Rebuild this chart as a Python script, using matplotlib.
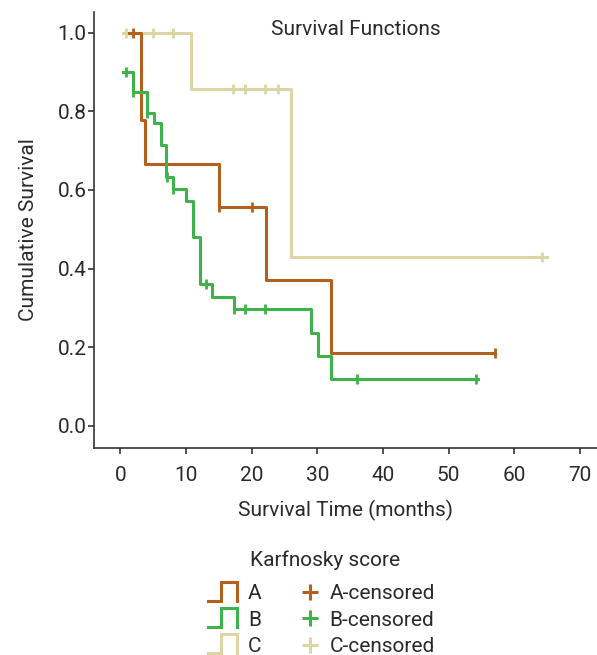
import matplotlib.pyplot as plt
from matplotlib.legend_handler import HandlerBase
from matplotlib.lines import Line2D

plt.rcParams['font.family'] = ['Roboto', 'DejaVu Sans']
plt.rcParams['font.size'] = 15
plt.rcParams['text.color'] = '#2a2a2a'
plt.rcParams['axes.labelcolor'] = '#2a2a2a'

# Kaplan-Meier steps (time in months, cumulative survival)
a_times = [1.4, 3.2, 3.8, 15.1, 22.2, 32.1, 57.1]
a_surv = [1.0, 0.778, 0.667, 0.556, 0.370, 0.185, 0.185]
a_cens_times = [2.0, 15.1, 20.0, 57.1]
a_cens_surv = [1.0, 0.556, 0.556, 0.185]

b_times = [0.4, 1.9, 4.1, 5.2, 6.2, 7.0, 8.1, 10.0, 11.0, 12.1, 14.0, 17.3, 29.1, 30.1, 32.1, 54.5]
b_surv = [0.900, 0.850, 0.796, 0.771, 0.714, 0.634, 0.602, 0.573, 0.481, 0.361, 0.329, 0.297,
          0.236, 0.179, 0.119, 0.119]
b_cens_times = [0.9, 1.9, 4.1, 7.1, 8.1, 13.0, 17.3, 19.0, 22.0, 36.1, 54.2]
b_cens_surv = [0.900, 0.850, 0.796, 0.634, 0.602, 0.361, 0.297, 0.297, 0.297, 0.119, 0.119]

c_times = [0.4, 10.8, 26.0, 65.0]
c_surv = [1.0, 0.857, 0.429, 0.429]
c_cens_times = [0.9, 5.0, 8.0, 17.1, 19.0, 22.0, 24.0, 64.2]
c_cens_surv = [1.0, 1.0, 1.0, 0.857, 0.857, 0.857, 0.857, 0.429]

groups = ['A', 'B', 'C']
colors = {'A': '#b35f1d', 'B': '#3db34a', 'C': '#dcd6a5'}


class StepHandler(HandlerBase):
    # little "_|‾|" icon like the original legend
    def create_artists(self, legend, orig_handle, xdescent, ydescent, width, height, fontsize, trans):
        x0, y0 = -xdescent, -ydescent
        lo, hi = y0 - 0.1 * height, y0 + 1.2 * height
        xs = [x0, x0 + 0.45 * width, x0 + 0.45 * width, x0 + width, x0 + width]
        ys = [lo, lo, hi, hi, lo]
        line = Line2D(xs, ys, color=orig_handle.get_color(), lw=2.2, solid_joinstyle='miter')
        line.set_transform(trans)
        return [line]


class CensorHandler(HandlerBase):
    def create_artists(self, legend, orig_handle, xdescent, ydescent, width, height, fontsize, trans):
        x = -xdescent + 0.72 * width
        y = -ydescent + 0.5 * height
        m = Line2D([x], [y], marker='+', markersize=12, markeredgewidth=2.2,
                   color=orig_handle.get_color(), linestyle='none')
        m.set_transform(trans)
        return [m]


fig = plt.figure(figsize=(5.97, 6.55), dpi=100)
ax = fig.add_axes([0.1575, 0.316, 0.8425, 0.666])

data = {
    'A': (a_times, a_surv, a_cens_times, a_cens_surv),
    'B': (b_times, b_surv, b_cens_times, b_cens_surv),
    'C': (c_times, c_surv, c_cens_times, c_cens_surv),
}
zorders = {'C': 2, 'A': 3, 'B': 4}

step_handles = []
cens_handles = []
for g in groups:
    t, s, ct, cs = data[g]
    line, = ax.step(t, s, where='post', color=colors[g], lw=2.2, zorder=zorders[g])
    marks, = ax.plot(ct, cs, linestyle='none', marker='|', markersize=7, markeredgewidth=2,
                     color=colors[g], zorder=zorders[g])
    step_handles.append(line)
    cens_handles.append(marks)

ax.set_xlim(-4, 72.6)
ax.set_ylim(-0.056, 1.053)
ax.set_xticks(range(0, 80, 10))
ax.set_yticks([0.0, 0.2, 0.4, 0.6, 0.8, 1.0])
ax.set_yticklabels(['0.0', '0.2', '0.4', '0.6', '0.8', '1.0'])
ax.spines['top'].set_visible(False)
ax.spines['right'].set_visible(False)
for sp in ['left', 'bottom']:
    ax.spines[sp].set_color('#333333')
    ax.spines[sp].set_linewidth(1.2)
ax.tick_params(colors='#333333', labelcolor='#2a2a2a', length=4.5, width=1.2, labelsize=15)
ax.tick_params(axis='x', pad=8.5)
ax.tick_params(axis='y', pad=1)

ax.set_xlabel('Survival Time (months)', labelpad=11)
ax.set_ylabel('Cumulative Survival', labelpad=14)
ax.text(0.521, 0.96, 'Survival Functions', transform=ax.transAxes, ha='center', va='center')

handles = step_handles + cens_handles
labels = groups + [g + '-censored' for g in groups]
handler_map = {h: StepHandler() for h in step_handles}
handler_map.update({h: CensorHandler() for h in cens_handles})
fig.text(0.545, 1 - 560 / 655, 'Karfnosky score', ha='center', va='center')
fig.legend(handles, labels, handler_map=handler_map, ncol=2,
           loc='upper center', bbox_to_anchor=(0.538, 0.108), frameon=False,
           handlelength=1.4, handletextpad=0.55, labelspacing=0.35, columnspacing=1.3,
           borderpad=0, borderaxespad=0)

fig.savefig('out.png', dpi=100)
